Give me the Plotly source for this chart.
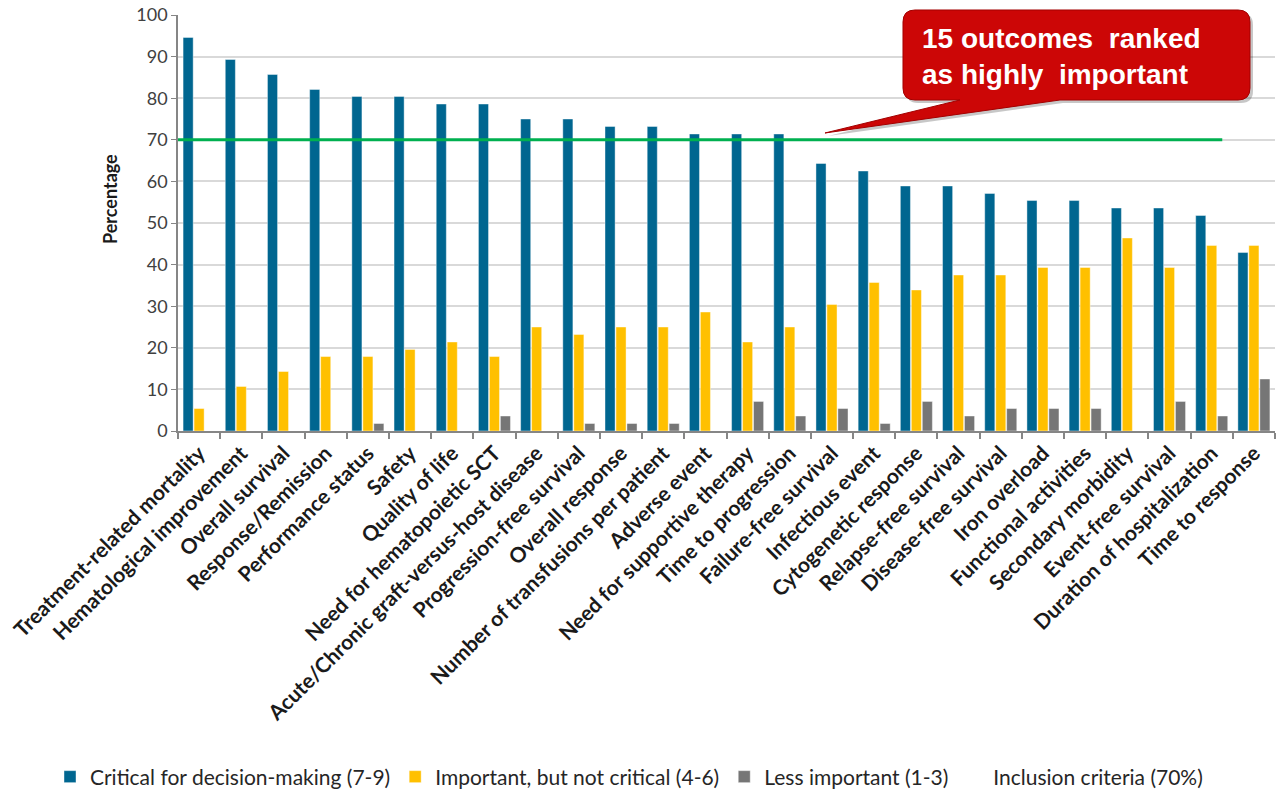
import plotly.graph_objects as go

categories = [
    "Treatment-related mortality", "Hematological improvement", "Overall survival",
    "Response/Remission", "Performance status", "Safety", "Quality of life",
    "Need for hematopoietic SCT", "Acute/Chronic graft-versus-host disease",
    "Progression-free survival", "Overall response", "Number of transfusions per patient",
    "Adverse event", "Need for supportive therapy", "Time to progression",
    "Failure-free survival", "Infectious event", "Cytogenetic response",
    "Relapse-free survival", "Disease-free survival", "Iron overload",
    "Functional activities", "Secondary morbidity", "Event-free survival",
    "Duration of hospitalization", "Time to response",
]
critical = [94.6, 89.3, 85.7, 82.1, 80.4, 80.4, 78.6, 78.6, 75.0, 75.0, 73.2, 73.2, 71.4,
            71.4, 71.4, 64.3, 62.5, 58.9, 58.9, 57.1, 55.4, 55.4, 53.6, 53.6, 51.8, 42.9]
important = [5.4, 10.7, 14.3, 17.9, 17.9, 19.6, 21.4, 17.9, 25.0, 23.2, 25.0, 25.0, 28.6,
             21.4, 25.0, 30.4, 35.7, 33.9, 37.5, 37.5, 39.3, 39.3, 46.4, 39.3, 44.6, 44.6]
less_important = [0, 0, 0, 0, 1.8, 0, 0, 3.6, 0, 1.8, 1.8, 1.8, 0, 7.1, 3.6, 5.4, 1.8,
                  7.1, 3.6, 5.4, 5.4, 5.4, 0, 7.1, 3.6, 12.5]
inclusion_threshold = 70
y_ticks = [0, 10, 20, 30, 40, 50, 60, 70, 80, 90, 100]
series_names = ["Critical for decision-making (7-9)", "Important, but not critical (4-6)",
                "Less important (1-3)", "Inclusion criteria (70%)"]
callout_lines = ["15 outcomes&nbsp; ranked", "as highly&nbsp; important"]
y_title = "Percentage"

BLUE, YELLOW, GRAY, GREEN = "#006690", "#FFC000", "#767676", "#00B050"
W, H = 1276, 792
ML, MR, MT, MB = 178, 1, 15, 361
PW, PH = W - ML - MR, H - MT - MB

def px_x(px):
    return (px - ML) / PW

def px_y(py):
    return (H - MB - py) / PH

xpos = list(range(len(categories)))

fig = go.Figure()
for name, vals, col in zip(series_names[:3], [critical, important, less_important],
                           [BLUE, YELLOW, GRAY]):
    fig.add_trace(go.Bar(x=xpos, y=vals, name=name, marker_color=col,
                         marker_line=dict(color="rgba(255,255,255,0.7)", width=0.6)))

# inclusion line (ends partway into the duration-of-hospitalization category)
fig.add_trace(go.Scatter(x=[-0.5, 24.25], y=[inclusion_threshold] * 2, mode="lines",
                         line=dict(color=GREEN, width=3), showlegend=False,
                         hoverinfo="skip"))
# legend entry without visible swatch
fig.add_trace(go.Scatter(x=[None], y=[None], mode="lines", name=series_names[3],
                         line=dict(color="rgba(0,0,0,0)", width=3)))

# callout bubble
x0, x1, y0, y1, r = 903, 1250, 10, 100, 12
base_a, base_b, tip = 960, 1060, (825, 133)

def bubble(dx=0, dy=0):
    pts = []
    def P(cmd, *xy):
        s = cmd
        for i in range(0, len(xy), 2):
            s += f" {px_x(xy[i] + dx):.5f},{px_y(xy[i + 1] + dy):.5f}"
        pts.append(s)
    P("M", x0 + r, y0)
    P("L", x1 - r, y0)
    P("Q", x1, y0, x1, y0 + r)
    P("L", x1, y1 - r)
    P("Q", x1, y1, x1 - r, y1)
    P("L", base_b, y1)
    P("L", tip[0], tip[1])
    P("L", base_a, y1)
    P("L", x0 + r, y1)
    P("Q", x0, y1, x0, y1 - r)
    P("L", x0, y0 + r)
    P("Q", x0, y0, x0 + r, y0)
    return " ".join(pts) + " Z"

fig.add_shape(type="path", xref="paper", yref="paper", path=bubble(3, 3),
              fillcolor="rgba(0,0,0,0.22)", line=dict(width=0), layer="above")
fig.add_shape(type="path", xref="paper", yref="paper", path=bubble(),
              fillcolor="#CC0606", line=dict(color="#A30000", width=1), layer="above")
for txt, yc in zip(callout_lines, [38, 74]):
    fig.add_annotation(xref="paper", yref="paper", x=px_x(920), y=px_y(yc),
                       xanchor="left", yanchor="middle", text=txt, showarrow=False,
                       font=dict(family="Liberation Sans, Arial", size=28, color="white",
                                 weight="bold"))

# y-axis title (placed above the vertical centre, as in the original)
fig.add_annotation(xref="paper", yref="paper", x=px_x(110), y=px_y(199), text=y_title,
                   textangle=-90, showarrow=False, xanchor="center", yanchor="middle",
                   font=dict(size=18, weight="bold", color="#1a1a1a"))

fig.update_layout(
    width=W, height=H, margin=dict(l=ML, r=MR, t=MT, b=MB, autoexpand=False),
    paper_bgcolor="white", plot_bgcolor="white",
    barmode="group", bargap=0.22, bargroupgap=0.08,
    font=dict(family="Lato, Open Sans, sans-serif", color="#262626"),
    showlegend=True,
    legend=dict(orientation="h", x=px_x(50), y=px_y(777), xanchor="left",
                yanchor="middle", font=dict(size=21, color="#262626"),
                itemwidth=30, traceorder="normal"),
    xaxis=dict(range=[-0.5, len(categories) - 0.5], tickmode="array", tickvals=xpos,
               ticktext=categories, tickangle=-45, ticks="", showgrid=False,
               showline=True, linecolor="#868686", linewidth=1.5,
               tickfont=dict(size=21, color="#1a1a1a", weight="bold"),
               minor=dict(tickmode="array",
                          tickvals=[i - 0.5 for i in range(len(categories) + 1)],
                          ticks="outside", ticklen=6, tickcolor="#868686", tickwidth=1.5,
                          showgrid=False),
               zeroline=False, fixedrange=True),
    yaxis=dict(range=[0, 100], tickmode="array", tickvals=y_ticks, showgrid=True,
               gridcolor="#D9D9D9", gridwidth=1.5, showline=True, linecolor="#868686",
               linewidth=1.5, ticks="outside", ticklen=5, tickcolor="#868686",
               tickfont=dict(size=18, color="#404040"), zeroline=False),
)
fig.write_html("out.html")
